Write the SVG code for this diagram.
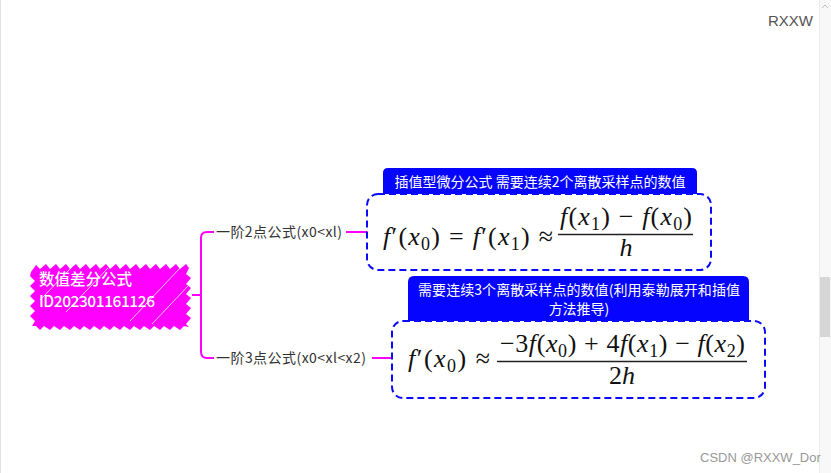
<svg xmlns="http://www.w3.org/2000/svg" width="831" height="473" viewBox="0 0 831 473">
<style>
.cn{font-family:"Noto Sans CJK SC","Noto Sans",sans-serif}
.lbl{font-size:14px;fill:#333}
.hdr{font-size:14px;fill:#fff}
.m{font-family:"Liberation Serif","DejaVu Serif",serif;font-size:26px;fill:#111}
.i{font-style:italic}
.s{font-size:18px}
.conn{fill:none;stroke:#ff00ff;stroke-width:2}
.dash{fill:#fff;stroke:#0a0aff;stroke-width:2;stroke-dasharray:7 4}
.head{fill:#0505ff}
.frac{stroke:#222;stroke-width:1.3}
</style>
<rect width="831" height="473" fill="#fff"/>
<line x1="0.5" y1="0" x2="0.5" y2="473" stroke="#e2e2e2"/>
<g id="scrollbar">
<rect x="819" y="0" width="12" height="473" fill="#f8f8f8"/>
<line x1="819.5" y1="0" x2="819.5" y2="473" stroke="#ececec"/>
<rect x="820" y="277" width="10" height="60" fill="#d6d6d6"/>
<path d="M822,8 L825,5 L828,8" fill="none" stroke="#bbb" stroke-width="1"/>
</g>
<text x="768" y="26" font-family="Liberation Sans,Arial,sans-serif" font-size="15" fill="#555">RXXW</text>
<text x="700" y="462" font-family="Liberation Sans,Arial,sans-serif" font-size="13" fill="#999">CSDN @RXXW_Dor</text>

<g id="connectors">
<path class="conn" d="M192,295 H201"/>
<path class="conn" d="M214,232 H207 Q201,232 201,238 V352 Q201,358 207,358 H214"/>
<path class="conn" d="M346,232 H371"/>
<path class="conn" d="M372,358 H396"/>
</g>

<g id="root">
<path fill="#ff00ff" d="M31,272 L36,265 L40,269 L46,264 L50,269 L56,264 L60,269 L66,264 L70,269 L76,264 L80,269 L86,264 L90,269 L96,264 L100,269 L106,264 L110,269 L116,264 L120,269 L126,264 L130,269 L136,264 L140,269 L146,264 L150,269 L156,264 L160,269 L166,264 L170,269 L176,264 L180,269 L186,264 L189,268 L186,274 L191,278 L186,284 L191,288 L186,294 L191,298 L186,304 L191,308 L186,314 L191,318 L186,324 L189,327 L184,326 L180,330 L174,326 L170,330 L164,326 L160,330 L154,326 L150,330 L144,326 L140,330 L134,326 L130,330 L124,326 L120,330 L114,326 L110,330 L104,326 L100,330 L94,326 L90,330 L84,326 L80,330 L74,326 L70,330 L64,326 L60,330 L54,326 L50,330 L44,326 L40,330 L36,326 L32,326 L35,321 L30,316 L35,311 L30,306 L35,301 L30,296 L35,291 L30,286 L35,281 L30,276 Z"/>
<g stroke="#fff" stroke-width="1" opacity="0.8">
<line x1="130" y1="321" x2="180" y2="268"/>
<line x1="152" y1="324" x2="188" y2="286"/>
<line x1="66" y1="312" x2="108" y2="268"/>
<line x1="40" y1="300" x2="72" y2="267"/>
</g>
<text class="cn" x="39" y="285" font-size="15.5" font-weight="500" fill="#fff">数值差分公式</text>
<text class="cn" x="39" y="307" font-size="15.5" font-weight="500" fill="#fff" textLength="116">ID202301161126</text>
</g>

<g id="n1">
<text class="cn lbl" x="216" y="237" textLength="126">一阶2点公式(x0&lt;xl)</text>
</g>
<g id="n2">
<text class="cn lbl" x="216" y="363" textLength="150">一阶3点公式(x0&lt;xl&lt;x2)</text>
</g>

<g id="box1">
<path class="head" d="M383,195 V173 Q383,168 388,168 H692 Q697,168 697,173 V195 Z"/>
<text class="cn hdr" x="540" y="187" text-anchor="middle">插值型微分公式 需要连续2个离散采样点的数值</text>
<rect class="dash" x="367" y="194" width="344" height="76" rx="11"/>
<text class="m" x="383" y="245" textLength="170" lengthAdjust="spacing"><tspan class="i">f</tspan>′(<tspan class="i">x</tspan><tspan class="s" dy="5">0</tspan><tspan dy="-5">) = </tspan><tspan class="i">f</tspan>′(<tspan class="i">x</tspan><tspan class="s" dy="5">1</tspan><tspan dy="-5">) ≈</tspan></text>
<text class="m" x="560" y="225" textLength="132" lengthAdjust="spacing"><tspan class="i">f</tspan>(<tspan class="i">x</tspan><tspan class="s" dy="5">1</tspan><tspan dy="-5">) − </tspan><tspan class="i">f</tspan>(<tspan class="i">x</tspan><tspan class="s" dy="5">0</tspan><tspan dy="-5">)</tspan></text>
<line class="frac" x1="558" y1="234.5" x2="693" y2="234.5"/>
<text class="m i" x="626" y="256" text-anchor="middle">h</text>
</g>

<g id="box2">
<path class="head" d="M408,322 V282 Q408,276 414,276 H743 Q749,276 749,282 V322 Z"/>
<text class="cn hdr" x="579" y="295" text-anchor="middle" textLength="322">需要连续3个离散采样点的数值(利用泰勒展开和插值</text>
<text class="cn hdr" x="579" y="314" text-anchor="middle">方法推导)</text>
<rect class="dash" x="392" y="321" width="373" height="77" rx="11"/>
<text class="m" x="408" y="367" textLength="82" lengthAdjust="spacing"><tspan class="i">f</tspan>′(<tspan class="i">x</tspan><tspan class="s" dy="5">0</tspan><tspan dy="-5">) ≈</tspan></text>
<text class="m" x="500" y="352" textLength="245" lengthAdjust="spacing">−3<tspan class="i">f</tspan>(<tspan class="i">x</tspan><tspan class="s" dy="5">0</tspan><tspan dy="-5">) + 4</tspan><tspan class="i">f</tspan>(<tspan class="i">x</tspan><tspan class="s" dy="5">1</tspan><tspan dy="-5">) − </tspan><tspan class="i">f</tspan>(<tspan class="i">x</tspan><tspan class="s" dy="5">2</tspan><tspan dy="-5">)</tspan></text>
<line class="frac" x1="497" y1="361.5" x2="747" y2="361.5"/>
<text class="m" x="622" y="384" text-anchor="middle">2<tspan class="i">h</tspan></text>
</g>
</svg>
